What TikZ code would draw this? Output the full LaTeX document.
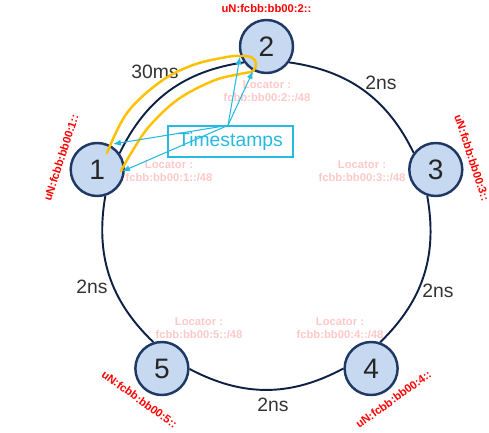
\documentclass[tikz,border=0pt]{standalone}
\usepackage{fontspec}
\setmainfont{Liberation Sans}
\usepackage{tikz}
\usetikzlibrary{arrows.meta, calc, positioning, backgrounds}
\definecolor{nutfill}{RGB}{198,217,240}
\definecolor{nutborder}{RGB}{31,56,100}
\definecolor{ringnavy}{RGB}{14,33,69}
\definecolor{vangcam}{RGB}{255,192,0}
\definecolor{tscyan}{RGB}{38,185,225}
\definecolor{locpink}{RGB}{255,200,200}

\begin{document}
\begin{tikzpicture}[
    nut/.style={circle, draw=nutborder, fill=nutfill, line width=1.4pt, minimum size=1.06cm, inner sep=0pt, font=\fontsize{16}{16}\selectfont, text=black!85},
    vong/.style={draw=ringnavy, line width=1.1pt},
    tre/.style={font=\fontsize{11}{13}\selectfont, text=black!80},
    sid/.style={text=red, font=\fontsize{6.4}{7}\selectfont\bfseries, inner sep=0pt},
    loc/.style={text=locpink, font=\fontsize{6.4}{7.4}\selectfont\bfseries, align=center, inner sep=0pt},
    tsbox/.style={draw=tscyan, line width=0.7pt, text=tscyan, minimum width=2.5cm, minimum height=0.62cm, font=\fontsize{11}{13}\selectfont},
    stamp/.style={draw=tscyan, line width=0.6pt, -{Latex[length=4.5pt,width=3.5pt]}},
    vang/.style={draw=vangcam, line width=1.4pt, line cap=round}
]
        \useasboundingbox (-5.33,-4.17) rectangle (4.45,4.49);

        % Các nút trên vòng
        \foreach \a/\n in {90/2, 162/1, 234/5, 306/4, 18/3}
            \node[nut] (n\n) at (\a:3.56) {\n};

        % Vòng nối các nút
        \begin{scope}[on background layer]
            \foreach \p/\q/\ang [evaluate=\ang as \ra using \ang+125.7, evaluate=\ang as \rb using \ang-53.7] in {3/2/18, 2/1/90, 1/5/162, 5/4/234, 4/3/306}
                \draw[vong] (n\p.\ra) to[bend right=28] (n\q.\rb);
        \end{scope}

        % Độ trễ trên các cạnh
        \node[tre] (d12) at (-2.23,3.05) {30ms};
        \node[tre] (d23) at (2.29,2.83) {2ns};
        \node[tre] (d15) at (-3.49,-1.25) {2ns};
        \node[tre] (d34) at (3.43,-1.33) {2ns};
        \node[tre] (d45) at (0.13,-3.61) {2ns};

        % Địa chỉ uN của từng nút
        \foreach \a/\n/\r in {90/2/0, 162/1/72, 18/3/-72, 306/4/36, 234/5/-36}
            \node[sid, rotate=\r] (sid\n) at (\a:4.32) {uN:fcbb:bb00:\n::};

        % Locator
        \node[loc] (loc2) at (0.01,2.67) {Locator :\\fcbb:bb00:2::/48};
        \node[loc] (loc1) at (-1.95,1.07) {Locator :\\fcbb:bb00:1::/48};
        \node[loc] (loc3) at (1.91,1.07) {Locator :\\fcbb:bb00:3::/48};
        \node[loc] (loc5) at (-1.35,-2.07) {Locator :\\fcbb:bb00:5::/48};
        \node[loc] (loc4) at (1.47,-2.07) {Locator :\\fcbb:bb00:4::/48};

        % Đường đi và về giữa nút 1 và nút 2
        \coordinate (t1) at (-0.53,3.36);
        \coordinate (t2) at (-0.27,3.07);
        \coordinate (t3) at (-3.07,1.61);
        \coordinate (t4) at (-2.89,1.06);
        \draw[vang] plot[smooth, tension=0.6] coordinates {(-3.19,1.43) (-2.79,2.23) (-2.13,2.85) (-1.47,3.19) (-0.79,3.35) (-0.53,3.37) (-0.31,3.35) (-0.21,3.23) (-0.27,3.07) (-0.53,3.01) (-1.05,2.88) (-1.76,2.51) (-2.34,1.97) (-2.70,1.44) (-2.91,1.07)};

        % Timestamps
        \node[tsbox] (ts) at (-0.72,1.66) {Timestamps};
        \coordinate (tsrc) at ([xshift=-0.05cm]ts.north);
        \foreach \t in {t1, t2, t3, t4}
            \draw[stamp] (tsrc) -- (\t);

\end{tikzpicture}
\end{document}
